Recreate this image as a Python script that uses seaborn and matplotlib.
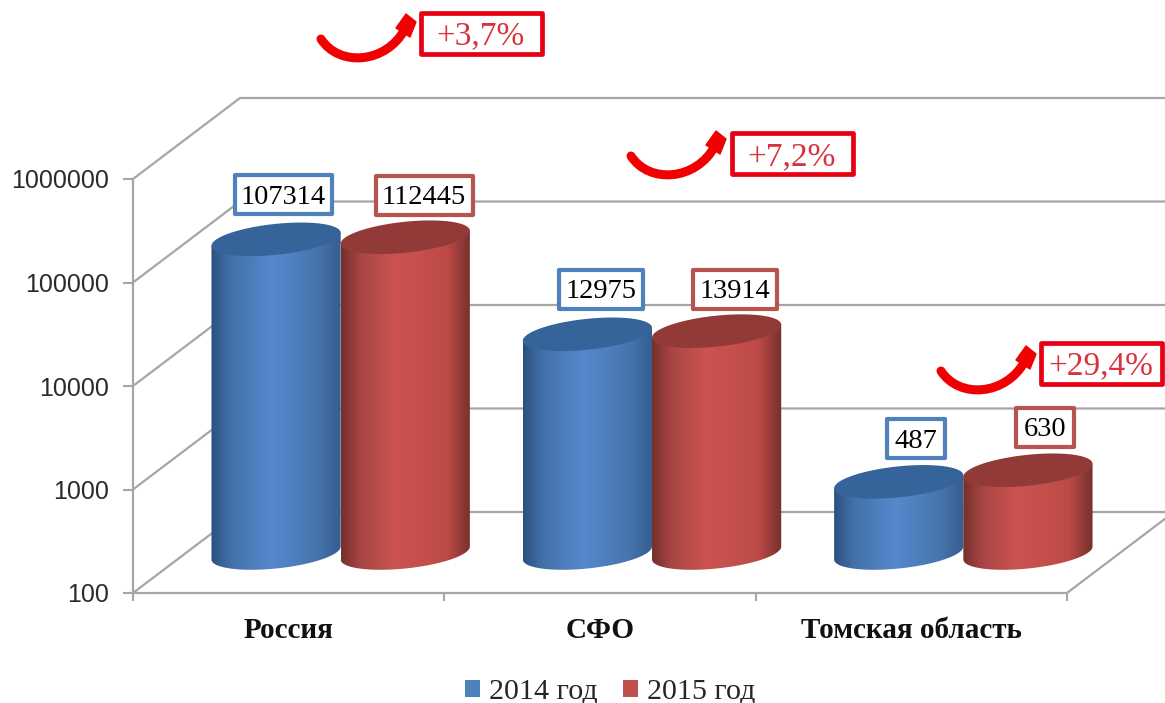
import numpy as np
import pandas as pd
import seaborn as sns
import matplotlib
matplotlib.use("Agg")
import matplotlib.pyplot as plt
from matplotlib.patches import Patch, PathPatch, Polygon, Rectangle
from matplotlib.path import Path

# ---- data ----
regions = ["Россия", "СФО", "Томская область"]
values_2014 = [107314, 12975, 487]
values_2015 = [112445, 13914, 630]
series_names = ["2014 год", "2015 год"]
growth_labels = ["+3,7%", "+7,2%", "+29,4%"]
y_ticks = [100, 1000, 10000, 100000, 1000000]

# ---- layout (pixels in the 1165x703 picture) ----
W, H = 1165, 703
FRONT = (133, 1067, 593, 179)          # left, right, bottom, top
BAR_SHIFT = (52, -40)                  # cylinders stand mid-depth
DEPTH = (107, -81)                     # back wall offset
BOX_CENTRES_2014 = [(283, 194), (601, 289), (915.5, 438.5)]
BOX_CENTRES_2015 = [(424, 195), (735, 289), (1045, 427)]
GROWTH_BOXES = [(481, 33), (792, 153.5), (1101, 363)]
GROWTH_ARROWS = [(321, 39), (631, 156), (941, 371)]
BLUE, RED = "#4f81bd", "#c0504d"
BLUE_TOP, RED_TOP = "#36649a", "#923a37"
BLUE_EDGE, RED_EDGE = "#4f81bd", "#b85450"
GRID = "#a6a6a6"
BLUE_RAMP = [(0, "#2b5080"), (.15, "#4271a8"), (.47, "#5688cd"), (.82, "#4674ad"), (1, "#345e8e")]
RED_RAMP = [(0, "#74302d"), (.15, "#a84543"), (.42, "#cb5451"), (.82, "#bd4a46"), (1, "#76302d")]

sns.set_theme(style="white")
SERIF = "Liberation Serif"
SANS = "Liberation Sans"

fig = plt.figure(figsize=(W / 100, H / 100), dpi=100, facecolor="white")


def rect(l, r, b, t):
    return [l / W, 1 - b / H, (r - l) / W, (b - t) / H]


l, r, b, t = FRONT
ax = fig.add_axes(rect(l, r, b, t), zorder=0)
ax_bars = fig.add_axes(rect(l + BAR_SHIFT[0], r + BAR_SHIFT[0], b + BAR_SHIFT[1], t + BAR_SHIFT[1]), zorder=1)
px = fig.add_axes([0, 0, 1, 1], zorder=2)
px.set_xlim(0, W)
px.set_ylim(H, 0)
px.axis("off")
px.patch.set_alpha(0)

# ---- front plane: axes, ticks, labels ----
ax.set_yscale("log")
ax.set_ylim(y_ticks[0], y_ticks[-1])
ax.set_xlim(-0.5, len(regions) - 0.5)
ax.set_yticks(y_ticks)
ax.set_yticklabels([str(v) for v in y_ticks], fontfamily=SANS, fontsize=18, color="#2b2b2b")
ax.minorticks_off()
ax.tick_params(axis="y", which="major", left=True, length=7.5, width=1.5, color=GRID, pad=10)
ax.set_xticks(np.arange(len(regions) + 1) - 0.5)
ax.set_xticklabels([])
ax.tick_params(axis="x", which="major", bottom=True, length=6, width=1.5, color=GRID)
ax.set_xticks(range(len(regions)), minor=True)
ax.set_xticklabels(regions, minor=True, fontfamily=SERIF, fontweight="bold", fontsize=21, color="#111111")
ax.tick_params(axis="x", which="minor", bottom=False, length=0, pad=17.5)
ax.patch.set_alpha(0)
for side in ("top", "right"):
    ax.spines[side].set_visible(False)
for side in ("left", "bottom"):
    ax.spines[side].set_color(GRID)
    ax.spines[side].set_linewidth(1.6)

# ---- bars through seaborn ----
df = pd.DataFrame({
    "region": regions * 2,
    "year": [series_names[0]] * 3 + [series_names[1]] * 3,
    "value": values_2014 + values_2015,
})
sns.barplot(data=df, x="region", y="value", hue="year", hue_order=series_names,
            palette=[BLUE, RED], width=0.83, gap=0, dodge=True, legend=False,
            ax=ax_bars, log_scale=(False, True), errorbar=None)
ax_bars.set_ylim(y_ticks[0], y_ticks[-1])
ax_bars.set_xlim(-0.5, len(regions) - 0.5)
ax_bars.axis("off")
ax_bars.patch.set_alpha(0)


def to_px(axes, x, y):
    dx, dy = axes.transData.transform((x, y))
    return dx, H - dy


# ---- back wall, floor and grid lines ----
wall_kw = dict(color=GRID, lw=1.6, zorder=1, solid_capstyle="round")
for v in y_ticks:
    x0, y0 = to_px(ax, -0.5, v)
    x1, y1 = x0 + DEPTH[0], y0 + DEPTH[1]
    px.plot([x0, x1, W + 5], [y0, y1, y1], **wall_kw)
xr, yr = to_px(ax, len(regions) - 0.5, y_ticks[0])
px.plot([xr, xr + DEPTH[0]], [yr, yr + DEPTH[1]], **wall_kw)

# ---- cylinders ----
SLOPE = 0.1      # tilt of the ellipses
B = 15.5         # ellipse half height
theta = np.linspace(0, 2 * np.pi, 161)


def ellipse_pts(x0, x1, cy):
    cx, a = (x0 + x1) / 2, (x1 - x0) / 2
    xs = cx + a * np.cos(theta)
    ys = cy + B * np.sin(theta) - SLOPE * a * np.cos(theta)
    return np.column_stack([xs, ys])


def ramp_image(ramp):
    stops = [s for s, _ in ramp]
    cols = np.array([matplotlib.colors.to_rgb(c) for _, c in ramp])
    grid = np.linspace(0, 1, 256)
    return np.stack([np.interp(grid, stops, cols[:, i]) for i in range(3)], axis=1)[None, :, :]


styles = [(BLUE_RAMP, BLUE_TOP), (RED_RAMP, RED_TOP)]
for z_off, (container, (ramp, top_col)) in enumerate(zip(ax_bars.containers, styles)):
    for bar in container:
        xa = bar.get_x()
        xb = xa + bar.get_width()
        x0, yt = to_px(ax_bars, xa, bar.get_height())
        x1, yb = to_px(ax_bars, xb, y_ticks[0])
        a = (x1 - x0) / 2
        cx = (x0 + x1) / 2
        t_side = np.linspace(0, np.pi, 80)
        low_x = cx + a * np.cos(t_side)
        low_y = yb + B * np.sin(t_side) - SLOPE * a * np.cos(t_side)
        outline = np.vstack([[[x1, yt - SLOPE * a]], np.column_stack([low_x, low_y]), [[x0, yt + SLOPE * a]]])
        side = Polygon(outline, closed=True, transform=px.transData, fc="none", ec="none")
        px.add_patch(side)
        bar.set_clip_path(side)
        img = px.imshow(ramp_image(ramp), extent=(x0, x1, yb + 40, yt - 40), aspect="auto",
                        zorder=3 + z_off, interpolation="bilinear")
        img.set_clip_path(side)
        px.add_patch(Polygon(ellipse_pts(x0, x1, yt), closed=True, fc=top_col, ec="none", zorder=3 + z_off))
px.set_xlim(0, W)
px.set_ylim(H, 0)


# ---- value boxes ----
def label_box(cx, cy, w, h, text, edge, color="black", size=20.5, lw=3.0):
    px.add_patch(Rectangle((cx - w / 2, cy - h / 2), w, h, fc="white", ec=edge, lw=lw, zorder=6,
                           joinstyle="round"))
    px.text(cx, cy, text, ha="center", va="center_baseline", fontfamily=SERIF, fontsize=size,
            color=color, zorder=7)


def box_width(n):
    return {3: 58, 5: 84, 6: 97}[n]


for vals, centres, edge in ((values_2014, BOX_CENTRES_2014, BLUE_EDGE), (values_2015, BOX_CENTRES_2015, RED_EDGE)):
    for v, (cx, cy) in zip(vals, centres):
        label_box(cx, cy, box_width(len(str(v))), 39, str(v), edge)

# ---- growth callouts ----
ARROW_RED = "#f00000"
for txt, (cx, cy), (ax0, ay0) in zip(growth_labels, GROWTH_BOXES, GROWTH_ARROWS):
    label_box(cx, cy, 121, 41, txt, "#e60012", color="#d8323c", size=24, lw=3.4)
    verts = [(ax0, ay0), (ax0 + 18, ay0 + 28), (ax0 + 65, ay0 + 25), (ax0 + 84, ay0 - 10)]
    codes = [Path.MOVETO, Path.CURVE4, Path.CURVE4, Path.CURVE4]
    px.add_patch(PathPatch(Path(verts, codes), fc="none", ec=ARROW_RED, lw=6.5, capstyle="round", zorder=5))
    head = [(ax0 + 75, ay0 - 11), (ax0 + 85, ay0 - 25), (ax0 + 95, ay0 - 17), (ax0 + 89, ay0 - 2)]
    px.add_patch(Polygon(head, closed=True, fc=ARROW_RED, ec=ARROW_RED, lw=1, joinstyle="round", zorder=5))

# ---- legend ----
handles = [Patch(fc=BLUE, ec="none", label=series_names[0]), Patch(fc=RED, ec="none", label=series_names[1])]
px.legend(handles=handles, loc="center", bbox_to_anchor=(610, 692), bbox_transform=px.transData,
          ncol=2, frameon=False, prop={"family": SERIF, "size": 21.6}, handlelength=0.5, handleheight=0.5,
          handletextpad=0.3, columnspacing=0.85, borderpad=0, borderaxespad=0)

fig.savefig("out.png", dpi=100, facecolor="white")
